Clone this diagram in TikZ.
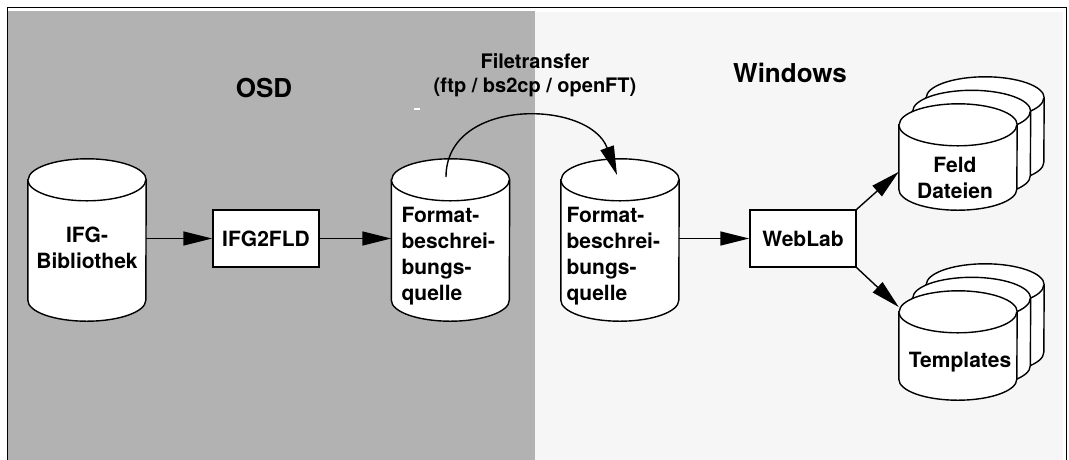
\documentclass[tikz,border=0pt]{standalone}
\usepackage{fontspec}
\setmainfont{TeX Gyre Heros}
\usetikzlibrary{arrows.meta,calc}
\definecolor{osdgray}{gray}{0.70}
\definecolor{wingray}{gray}{0.965}
% cylinder round an empty node
\newcommand{\dbcyl}[1]{%
  \filldraw[dbline] ([yshift=-21pt]#1.north west) -- ([yshift=21pt]#1.south west)
    arc[start angle=180,end angle=360,x radius=59pt,y radius=21pt]
    -- ([yshift=-21pt]#1.north east)
    arc[start angle=0,end angle=180,x radius=59pt,y radius=21pt] -- cycle;
  \draw[dbline] ([yshift=-21pt]#1.north west)
    arc[start angle=180,end angle=360,x radius=59pt,y radius=21pt];}

\begin{document}
\begin{tikzpicture}[x=1pt,y=-1pt]
  \tikzset{db/.style={rectangle,inner sep=0pt,minimum width=118pt,minimum height=162pt},
    dbline/.style={draw=black,fill=white,line width=1.4pt},
    txt/.style={font=\bfseries\fontsize{21}{26}\selectfont},
    proc/.style={rectangle,draw,fill=white,line width=1.4pt,minimum width=106pt,
      minimum height=57pt,txt},
    title/.style={font=\bfseries\fontsize{26}{30}\selectfont},
    arr/.style={line width=1.4pt,-{Triangle[length=29pt,width=14pt]}}};
  \clip (0,0) rectangle (1069,459);
  \fill[white] (0,0) rectangle (1069,459);
  \fill[osdgray] (8,11) rectangle (535,470);
  \fill[wingray] (535,12) rectangle (1063,470);
  \draw[line width=1pt] (7,470) -- (7,7) -- (1066,7) -- (1066,470);
  \draw[white,line width=2pt] (414,109) -- (420,109);
  \node[title] (osd) at (264,88) {OSD};
  \node[title] (win) at (790,73) {Windows};
  \node[align=center,font=\bfseries\fontsize{20}{24}\selectfont] (ft) at (535,75)
    {Filetransfer\\(ftp / bs2cp / openFT)};
  \node[db] (ifg) at (87,240) {};
  \dbcyl{ifg}
  \node[txt,align=center] (ifgtxt) at (87,247.5) {IFG-\\Bibliothek};
  \node[proc] (conv) at (266,238.5) {IFG2FLD};
  \node[db] (fqosd) at (450.5,240) {};
  \dbcyl{fqosd}
  \node[txt,align=left,anchor=west] (fqosdtxt) at (398,256) {Format-\\beschrei-\\bungs-\\quelle};
  \node[db] (fqwin) at (620,240) {};
  \dbcyl{fqwin}
  \node[txt,align=left,anchor=west] (fqwintxt) at (563,256) {Format-\\beschrei-\\bungs-\\quelle};
  \node[proc] (weblab) at (803,238.5) {WebLab};
  % feld dateien, stacked
  \node[db,minimum height=106pt] (feld3) at (985,130) {};
  \dbcyl{feld3}
  \node[db,minimum height=106pt] (feld2) at (971.5,143.5) {};
  \dbcyl{feld2}
  \node[db,minimum height=106pt] (feld) at (958,157) {};
  \dbcyl{feld}
  \node[txt,align=center] (feldtxt) at (955,177.5) {Feld\\Dateien};
  % templates, stacked
  \node[db,minimum height=109pt] (tmpl3) at (985,318.5) {};
  \dbcyl{tmpl3}
  \node[db,minimum height=109pt] (tmpl2) at (971.5,332) {};
  \dbcyl{tmpl2}
  \node[db,minimum height=109pt] (tmpl) at (958,345.5) {};
  \dbcyl{tmpl}
  \node[txt] (tmpltxt) at (960,362) {Templates};
  \draw[arr] (ifg.east |- conv.west) -- (conv.west);
  \draw[arr] (conv.east) -- (fqosd.west |- conv.east);
  \draw[arr] ($(fqosd.center)+(-4.5,-63)$) to[out=90,in=110,looseness=1.2] ($(fqwin.center)+(-3,-65)$);
  \draw[arr] (fqwin.east |- weblab.west) -- (weblab.west);
  \draw[arr] (weblab.north east) -- (feld.194);
  \draw[arr] (weblab.south east) -- (tmpl.147);
\end{tikzpicture}
\end{document}
